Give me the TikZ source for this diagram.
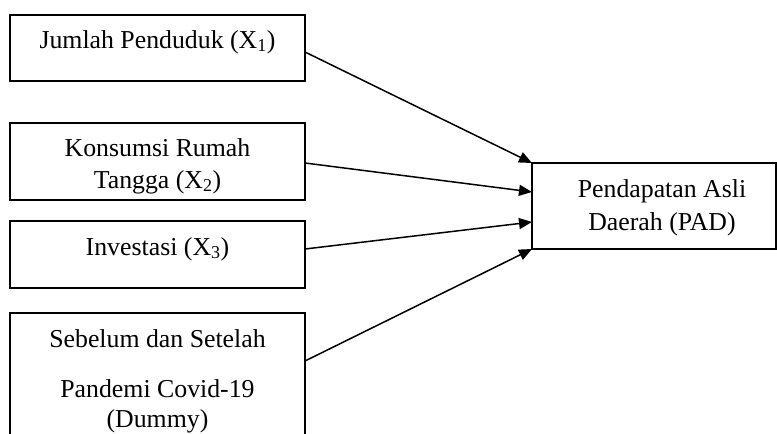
\documentclass[tikz,border=0pt]{standalone}
\usepackage{fontspec}
\setmainfont{Liberation Serif}
\usetikzlibrary{arrows.meta,calc}
\begin{document}
\begin{tikzpicture}[x=1pt,y=-1pt,
  boxst/.style={draw,line width=1.5pt,inner sep=0pt,outer sep=0pt,rectangle},
  txt/.style={anchor=base,inner sep=0pt,font=\fontsize{25.8}{32}\selectfont},
  arr/.style={line width=1.5pt,-{Triangle[length=13pt,width=11pt]}}]
\useasboundingbox (0,0) rectangle (777,434);
\clip (0,0) rectangle (777,434);
% boxes
\node[boxst,minimum width=295pt,minimum height=66pt] (b1) at (157.5,48) {};
\node[boxst,minimum width=295pt,minimum height=77pt] (b2) at (157.5,161.5) {};
\node[boxst,minimum width=295pt,minimum height=67pt] (b3) at (157.5,254.5) {};
\node[boxst,minimum width=295pt,minimum height=140pt] (b4) at (157.5,383) {};
\node[boxst,minimum width=244pt,minimum height=86pt] (pad) at (654,206) {};
% texts
\node[txt] (t1) at (157.5,48) {Jumlah Penduduk (X\textsubscript{1})};
\node[txt] (t2a) at (157.5,156) {Konsumsi Rumah};
\node[txt] (t2b) at (157.5,188) {Tangga (X\textsubscript{2})};
\node[txt] (t3) at (157.5,255) {Investasi (X\textsubscript{3})};
\node[txt] (t4a) at (157.5,347) {Sebelum dan Setelah};
\node[txt] (t4b) at (157.5,397) {Pandemi Covid-19};
\node[txt] (t4c) at (157.5,427) {(Dummy)};
\node[txt] (t5a) at (662,197) {Pendapatan Asli};
\node[txt] (t5b) at (662,230) {Daerah (PAD)};
% arrows
\draw[arr] ($(b1.east)+(0,4)$) -- (pad.north west);
\draw[arr] ($(b2.east)+(0,1.5)$) -- ($(pad.north west)!0.337!(pad.south west)$);
\draw[arr] ($(b3.east)+(0,-5.5)$) -- ($(pad.north west)!0.686!(pad.south west)$);
\draw[arr] ($(b4.east)+(0,-22)$) -- (pad.south west);
\end{tikzpicture}
\end{document}
